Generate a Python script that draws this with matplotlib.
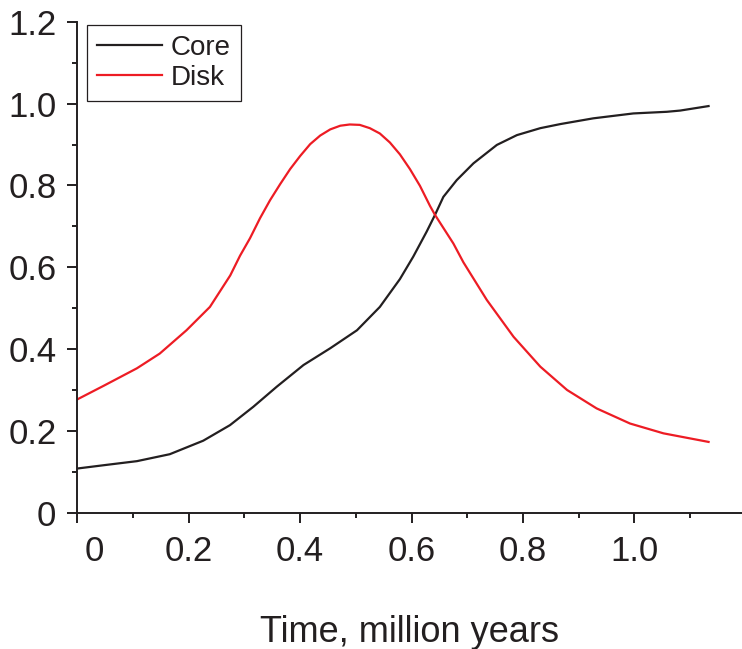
import matplotlib
matplotlib.use("Agg")
import matplotlib.pyplot as plt
from matplotlib.transforms import ScaledTranslation

# ---- data ----
disk_x = [0.000, 0.047, 0.107, 0.148, 0.196, 0.238, 0.2745, 0.292, 0.310, 0.328,
          0.346, 0.364, 0.382, 0.400, 0.418, 0.436, 0.454, 0.472, 0.489, 0.507,
          0.525, 0.543, 0.561, 0.579, 0.597, 0.615, 0.633, 0.642, 0.675, 0.693,
          0.735, 0.783, 0.831, 0.879, 0.932, 0.992, 1.052, 1.133]
disk_y = [0.277, 0.310, 0.353, 0.389, 0.446, 0.503, 0.580, 0.628, 0.671, 0.720,
          0.764, 0.803, 0.840, 0.872, 0.901, 0.922, 0.937, 0.946, 0.949, 0.948,
          0.940, 0.927, 0.905, 0.876, 0.840, 0.799, 0.750, 0.728, 0.658, 0.612,
          0.520, 0.430, 0.357, 0.300, 0.255, 0.218, 0.194, 0.173]

core_x = [0.000, 0.047, 0.107, 0.166, 0.226, 0.274, 0.316, 0.358, 0.406, 0.454,
          0.502, 0.543, 0.579, 0.603, 0.627, 0.642, 0.657, 0.681, 0.711, 0.753,
          0.789, 0.831, 0.867, 0.926, 0.998, 1.058, 1.082, 1.133]
core_y = [0.108, 0.116, 0.126, 0.143, 0.176, 0.214, 0.259, 0.308, 0.361, 0.402,
          0.446, 0.503, 0.571, 0.626, 0.687, 0.728, 0.772, 0.813, 0.854, 0.899,
          0.923, 0.940, 0.950, 0.964, 0.976, 0.980, 0.983, 0.994]

x_ticks = [0, 0.2, 0.4, 0.6, 0.8, 1.0]
x_tick_labels = ["0", "0.2", "0.4", "0.6", "0.8", "1.0"]
y_ticks = [0, 0.2, 0.4, 0.6, 0.8, 1.0, 1.2]
y_tick_labels = ["0", "0.2", "0.4", "0.6", "0.8", "1.0", "1.2"]

series_names = ["Core", "Disk"]
x_label = "Time, million years"

# ---- style ----
INK = "#231f20"
RED = "#ed1c24"
plt.rcParams["font.family"] = ["Liberation Sans", "DejaVu Sans"]

fig = plt.figure(figsize=(7.42, 6.49), dpi=100)
ax = fig.add_axes([77.3 / 742, (649 - 512.7) / 649, 1 - 77.3 / 742, (512.7 - 21.8) / 649])

ax.plot(core_x, core_y, color=INK, lw=1.6, label=series_names[0])
ax.plot(disk_x, disk_y, color=RED, lw=1.6, label=series_names[1])

ax.set_xlim(0, 1.193)
ax.set_ylim(0, 1.2)

for side in ("top", "right"):
    ax.spines[side].set_visible(False)
for side in ("left", "bottom"):
    ax.spines[side].set_linewidth(1.4)
    ax.spines[side].set_color(INK)

ax.set_xticks(x_ticks)
ax.set_xticklabels(x_tick_labels)
ax.set_yticks(y_ticks)
ax.set_yticklabels(y_tick_labels)
ax.set_xticks([0.1, 0.3, 0.5, 0.7, 0.9, 1.1], minor=True)
ax.set_yticks([0.1, 0.3, 0.5, 0.7, 0.9, 1.1], minor=True)

ax.tick_params(which="major", direction="out", length=7, width=1.4, color=INK,
               labelsize=25, labelcolor=INK)
ax.tick_params(which="minor", direction="out", length=3.5, width=1.4, color=INK)
ax.tick_params(axis="x", which="major", pad=9)
ax.tick_params(axis="y", which="major", pad=8)

ax.set_xlabel(x_label, fontsize=26, color=INK, labelpad=34)

# shift the "0" x label to the right, as in the reference
lbl0 = ax.xaxis.get_major_ticks()[0].label1
lbl0.set_transform(lbl0.get_transform() + ScaledTranslation(17 / 100, 0, fig.dpi_scale_trans))

leg = ax.legend(loc="upper left", bbox_to_anchor=(0.0141, 0.9935), borderaxespad=0,
                fontsize=20, frameon=True, fancybox=False, framealpha=1,
                handlelength=2.35, handletextpad=0.31, borderpad=0.36,
                labelspacing=0.15)
leg.get_frame().set_edgecolor(INK)
leg.get_frame().set_linewidth(0.9)
for t in leg.get_texts():
    t.set_color(INK)

fig.savefig("out.png", dpi=100)
